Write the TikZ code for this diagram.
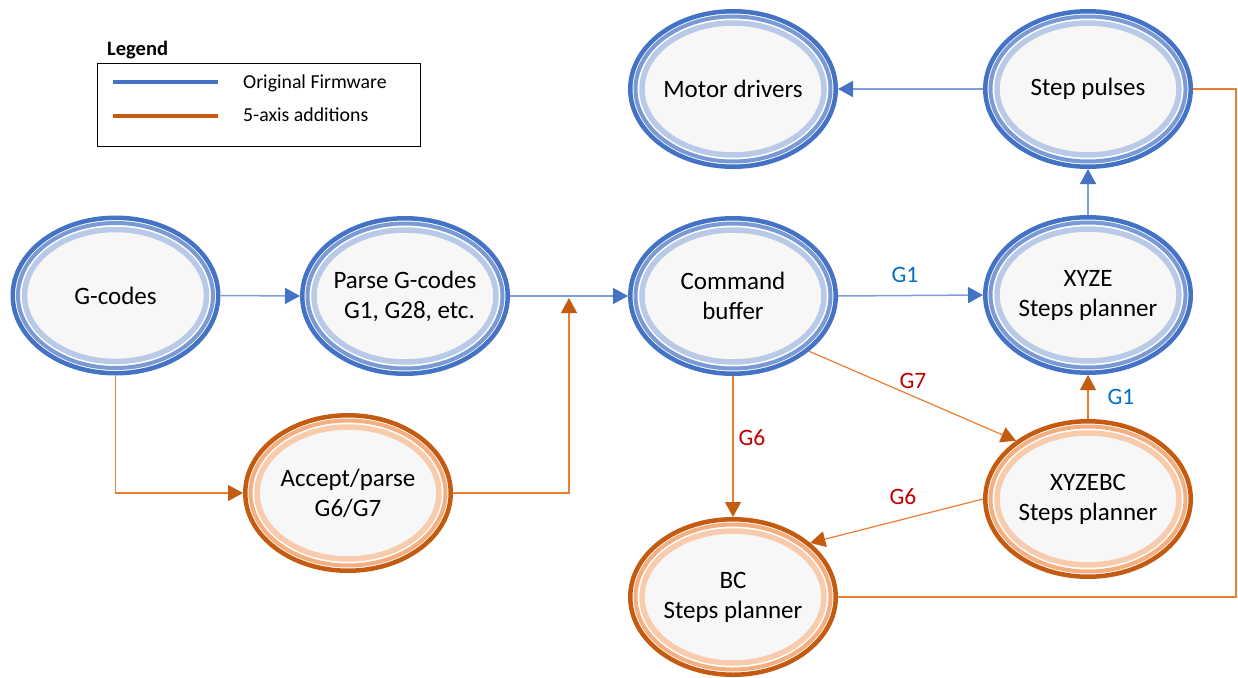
\documentclass[tikz,border=0pt]{standalone}
\usepackage{fontspec}
\setmainfont{Carlito}
\usetikzlibrary{shapes.geometric,arrows.meta}
\definecolor{bdark}{HTML}{4472C4}
\definecolor{bmid}{HTML}{7A9AD6}
\definecolor{blight}{HTML}{B8CAE8}
\definecolor{odark}{HTML}{C55A11}
\definecolor{omid}{HTML}{F4AE80}
\definecolor{olight}{HTML}{F8CBAD}
\definecolor{ringfill}{HTML}{F7F7F7}
\definecolor{bline}{HTML}{7E9ED8}
\definecolor{oline}{HTML}{ED7D31}
\definecolor{lblue}{HTML}{0070C0}
\definecolor{lred}{HTML}{C00000}
\begin{document}
\begin{tikzpicture}[x=1pt,y=-1pt,
  ringbase/.style n args={3}{ellipse, draw=#1, line width=4.5pt, fill=white,
    minimum width=205.5pt, minimum height=155.5pt, inner sep=0pt, align=center,
    font=\fontsize{25}{30}\selectfont,
    path picture={
      \fill[ringfill] (path picture bounding box.center) ellipse [x radius=91pt, y radius=66pt];
      \draw[#3, line width=5.5pt] (path picture bounding box.center) ellipse [x radius=91pt, y radius=66pt];
      \draw[#2, line width=4pt] (path picture bounding box.center) ellipse [x radius=97.5pt, y radius=72.5pt];
    }},
  bring/.style={ringbase={bdark}{bmid}{blight}},
  oring/.style={ringbase={odark}{omid}{olight}},
  barrow/.style={draw=bline, line width=1.5pt, -{Triangle[length=15pt,width=16pt,color=bdark]}},
  oarrow/.style={draw=oline, line width=1.2pt, -{Triangle[length=15pt,width=16pt,color=odark]}},
  oplain/.style={draw=oline, line width=1.2pt},
  lab/.style={font=\fontsize{23.5}{27}\selectfont, inner sep=0pt},
  legtext/.style={font=\fontsize{19.8}{23}\selectfont, inner sep=0pt, anchor=west}
]
\useasboundingbox (0,0) rectangle (1238,677);

% legend
\node[font=\bfseries\fontsize{20.5}{24}\selectfont, anchor=base west, inner sep=0pt] (legt) at (107,56) {Legend};
\node[draw, line width=1.3pt, minimum width=323pt, minimum height=83pt, anchor=north west, inner sep=0pt] (legbox) at (97,63) {};
\draw[bdark, line width=4.5pt] (113,82) -- (218,82);
\draw[odark, line width=4.5pt] (113,116) -- (218,116);
\node[legtext] (legb) at (243,83) {Original Firmware};
\node[legtext] (lego) at (243,115) {5-axis additions};

% nodes
\node[bring] (gc) at (115.5,295.5) {G-codes};
\node[bring] (parse) at (405,296) {Parse G-codes\\\hspace*{9pt}G1, G28, etc.};
\node[bring] (cmd) at (733,296) {Command\\buffer};
\node[bring] (xyze) at (1088,295) {XYZE\\Steps planner};
\node[bring] (motor) at (733,89) {Motor drivers};
\node[bring] (pulse) at (1088,89) {Step pulses};
\node[oring] (acc) at (348,493) {Accept/parse\\G6/G7};
\node[oring] (bc) at (733,597) {BC\\Steps planner};
\node[oring] (xyzebc) at (1088,499) {XYZEBC\\Steps planner};

% connectors
\draw[barrow] (gc.east) -- (parse.west);
\draw[barrow] (parse.east) -- (cmd.west);
\draw[oarrow] (gc.south) |- (acc.west);
\coordinate (merge) at (569,298);
\draw[oarrow] (acc.east) -| (merge);
\draw[barrow] (cmd.east) -- (xyze.west);
\draw[oarrow] (cmd.-36.7) -- (xyzebc.141.8);
\draw[oarrow] (cmd.south) -- (bc.north);
\draw[oarrow] (xyzebc.west) -- (bc.35);
\draw[oarrow] (xyzebc.north) -- (xyze.south);
\draw[barrow] (xyze.north) -- (pulse.south);
\draw[barrow] (pulse.west) -- (motor.east);
\coordinate (c1) at (1236,597);
\coordinate (c2) at (1236,89);
\draw[oplain] (bc.east) -- (c1) -- (c2) -- (pulse.east);

% labels
\node[lab, text=lblue] (l1) at (905,275) {G1};
\node[lab, text=lred] (l2) at (913,381) {G7};
\node[lab, text=lred] (l3) at (752,438) {G6};
\node[lab, text=lred] (l4) at (903,497) {G6};
\node[lab, text=lblue] (l5) at (1121,397) {G1};
\end{tikzpicture}
\end{document}
